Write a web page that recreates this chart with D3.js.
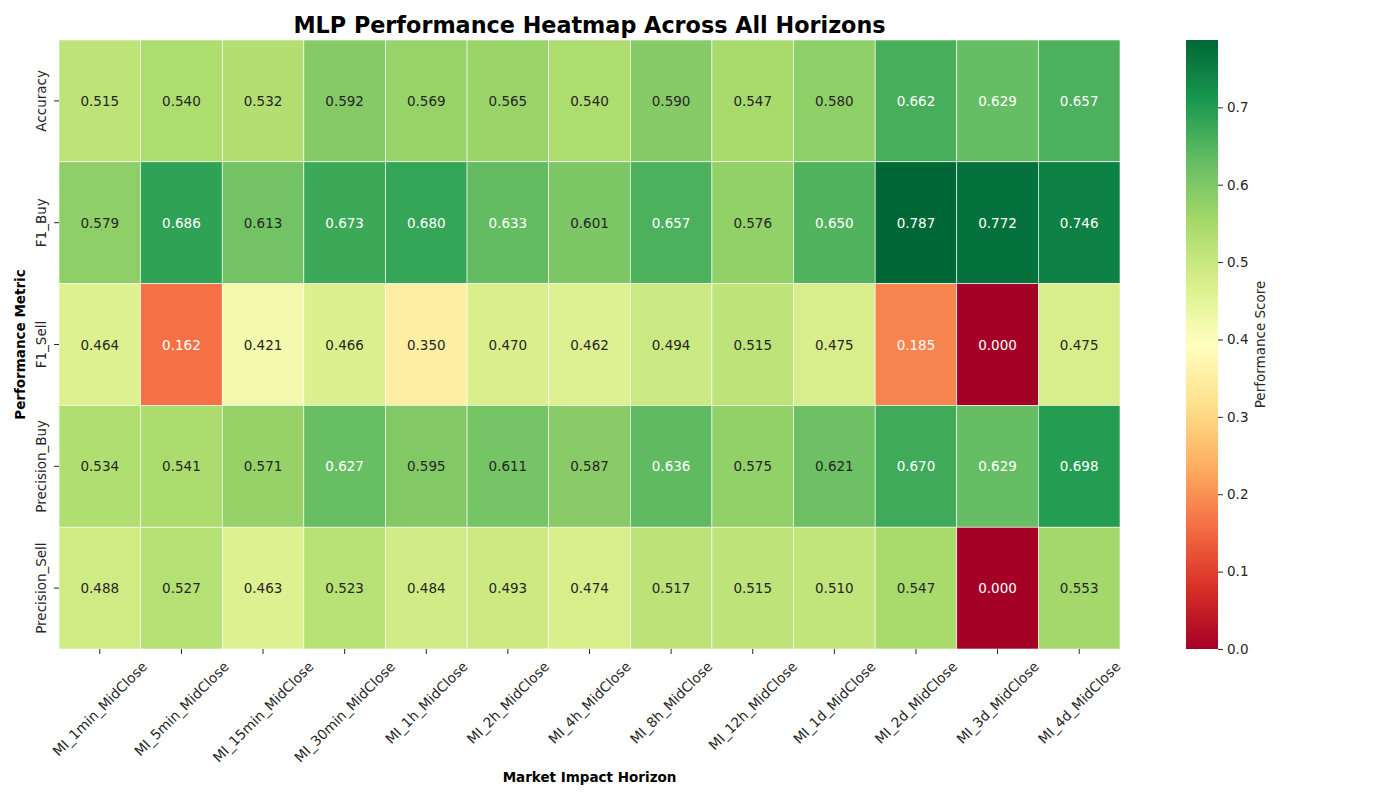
<!DOCTYPE html>
<html>
<head>
<meta charset="UTF-8">
<title>MLP Performance Heatmap</title>
<style>
  body { margin: 0; background: #fff; }
  text { font-family: "DejaVu Sans", sans-serif; }
</style>
</head>
<body>
<svg id="chart" width="1400" height="800"></svg>
<script src="https://cdn.jsdelivr.net/npm/d3@7"></script>
<script>
// data
const horizons = ["MI_1min_MidClose", "MI_5min_MidClose", "MI_15min_MidClose", "MI_30min_MidClose",
  "MI_1h_MidClose", "MI_2h_MidClose", "MI_4h_MidClose", "MI_8h_MidClose", "MI_12h_MidClose",
  "MI_1d_MidClose", "MI_2d_MidClose", "MI_3d_MidClose", "MI_4d_MidClose"];
const metrics = ["Accuracy", "F1_Buy", "F1_Sell", "Precision_Buy", "Precision_Sell"];

const accuracy      = [0.515, 0.540, 0.532, 0.592, 0.569, 0.565, 0.540, 0.590, 0.547, 0.580, 0.662, 0.629, 0.657];
const f1Buy         = [0.579, 0.686, 0.613, 0.673, 0.680, 0.633, 0.601, 0.657, 0.576, 0.650, 0.787, 0.772, 0.746];
const f1Sell        = [0.464, 0.162, 0.421, 0.466, 0.350, 0.470, 0.462, 0.494, 0.515, 0.475, 0.185, 0.000, 0.475];
const precisionBuy  = [0.534, 0.541, 0.571, 0.627, 0.595, 0.611, 0.587, 0.636, 0.575, 0.621, 0.670, 0.629, 0.698];
const precisionSell = [0.488, 0.527, 0.463, 0.523, 0.484, 0.493, 0.474, 0.517, 0.515, 0.510, 0.547, 0.000, 0.553];
const rows = [accuracy, f1Buy, f1Sell, precisionBuy, precisionSell];

const cbTicks = [0.0, 0.1, 0.2, 0.3, 0.4, 0.5, 0.6, 0.7];

const cells = [];
rows.forEach((r, i) => r.forEach((v, j) => cells.push({ metric: metrics[i], horizon: horizons[j], value: v })));

const svg = d3.select("#chart");
const plotL = 59, plotR = 1120, plotT = 40, plotB = 649;

const x = d3.scaleBand().domain(horizons).range([plotL, plotR]);
const y = d3.scaleBand().domain(metrics).range([plotT, plotB]);

// RdYlGn like matplotlib (linear between brewer stops)
const rdylgn = ["#a50026","#d73027","#f46d43","#fdae61","#fee08b","#ffffbf","#d9ef8b","#a6d96a","#66bd63","#1a9850","#006837"];
const vmin = d3.min(cells, d => d.value), vmax = d3.max(cells, d => d.value);
const color = d3.scaleLinear()
  .domain(rdylgn.map((c, i) => vmin + (vmax - vmin) * i / (rdylgn.length - 1)))
  .range(rdylgn)
  .interpolate(d3.interpolateRgb);

function luminance(c) {
  const rgb = d3.rgb(c);
  const f = v => { v /= 255; return v <= 0.03928 ? v / 12.92 : Math.pow((v + 0.055) / 1.055, 2.4); };
  return 0.2126 * f(rgb.r) + 0.7152 * f(rgb.g) + 0.0722 * f(rgb.b);
}

// cells
svg.append("g").selectAll("rect")
  .data(cells)
  .enter().append("rect")
  .attr("x", d => x(d.horizon))
  .attr("y", d => y(d.metric))
  .attr("width", x.bandwidth())
  .attr("height", y.bandwidth())
  .attr("fill", d => color(d.value))
  .attr("stroke", "#fff")
  .attr("stroke-width", 0.6);

svg.append("g").selectAll("text")
  .data(cells)
  .enter().append("text")
  .attr("x", d => x(d.horizon) + x.bandwidth() / 2)
  .attr("y", d => y(d.metric) + y.bandwidth() / 2)
  .attr("text-anchor", "middle")
  .attr("dominant-baseline", "central")
  .attr("font-size", 13.5)
  .attr("fill", d => luminance(color(d.value)) > 0.408 ? "#262626" : "#fff")
  .text(d => d.value.toFixed(3));

// x axis
const xAxis = svg.append("g")
  .attr("transform", `translate(0,${plotB})`)
  .call(d3.axisBottom(x).tickSize(5).tickPadding(4).tickFormat(""));
xAxis.select(".domain").remove();
xAxis.selectAll("line").attr("stroke", "#262626");

const xl = svg.append("g").selectAll("text")
  .data(horizons)
  .enter().append("text")
  .attr("font-size", 13.8)
  .attr("fill", "#262626")
  .attr("text-anchor", "middle")
  .attr("dominant-baseline", "central")
  .text(d => d);
xl.each(function (d) {
  const L = this.getComputedTextLength();
  const h = (L + 14) * Math.SQRT1_2 / 2;
  const cx = x(d) + x.bandwidth() / 2, cy = plotB + 10 + h;
  d3.select(this).attr("x", cx).attr("y", cy).attr("transform", `rotate(-45,${cx},${cy})`);
});

// y axis
const yAxis = svg.append("g")
  .attr("transform", `translate(${plotL},0)`)
  .call(d3.axisLeft(y).tickSize(5).tickFormat(""));
yAxis.select(".domain").remove();
yAxis.selectAll("line").attr("stroke", "#262626");

svg.append("g").selectAll("text")
  .data(metrics)
  .enter().append("text")
  .attr("font-size", 13.5)
  .attr("fill", "#262626")
  .attr("text-anchor", "middle")
  .attr("transform", d => `translate(46,${y(d) + y.bandwidth() / 2}) rotate(-90)`)
  .text(d => d);

// titles
svg.append("text")
  .attr("x", (plotL + plotR) / 2).attr("y", 33)
  .attr("text-anchor", "middle")
  .attr("font-size", 22.3).attr("font-weight", "bold")
  .text("MLP Performance Heatmap Across All Horizons");

svg.append("text")
  .attr("x", (plotL + plotR) / 2).attr("y", 782)
  .attr("text-anchor", "middle")
  .attr("font-size", 13.5).attr("font-weight", "bold")
  .text("Market Impact Horizon");

svg.append("text")
  .attr("transform", `translate(25,${(plotT + plotB) / 2}) rotate(-90)`)
  .attr("text-anchor", "middle")
  .attr("font-size", 13.5).attr("font-weight", "bold")
  .text("Performance Metric");

// colorbar
const cbX = 1186, cbW = 32;
const cbScale = d3.scaleLinear().domain([vmin, vmax]).range([plotB, plotT]);
const defs = svg.append("defs");
const grad = defs.append("linearGradient").attr("id", "cbgrad")
  .attr("x1", 0).attr("y1", 1).attr("x2", 0).attr("y2", 0);
rdylgn.forEach((c, i) => grad.append("stop").attr("offset", i / (rdylgn.length - 1)).attr("stop-color", c));
svg.append("rect")
  .attr("x", cbX).attr("y", plotT)
  .attr("width", cbW).attr("height", plotB - plotT)
  .attr("fill", "url(#cbgrad)");

const cbAxis = svg.append("g")
  .attr("transform", `translate(${cbX + cbW},0)`)
  .call(d3.axisRight(cbScale).tickValues(cbTicks).tickSize(5).tickPadding(4).tickFormat(d3.format(".1f")));
cbAxis.select(".domain").remove();
cbAxis.selectAll("line").attr("stroke", "#262626");
cbAxis.selectAll("text").attr("font-size", 13.5).attr("fill", "#262626").attr("font-family", "DejaVu Sans, sans-serif");

svg.append("text")
  .attr("transform", `translate(1265,${(plotT + plotB) / 2}) rotate(-90)`)
  .attr("text-anchor", "middle")
  .attr("font-size", 13.5)
  .attr("fill", "#262626")
  .text("Performance Score");
</script>
</body>
</html>
